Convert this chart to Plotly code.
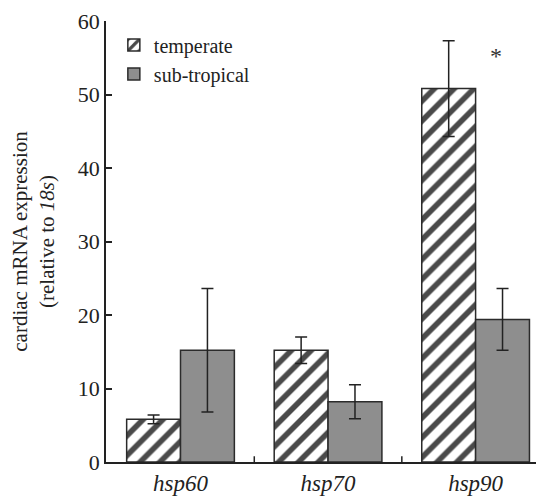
import plotly.graph_objects as go

categories = ["hsp60", "hsp70", "hsp90"]
tick_labels = ["<i>hsp60</i>", "<i>hsp70</i>", "<i>hsp90</i>"]
temperate = [5.8, 15.2, 50.8]
temperate_err = [0.6, 1.8, 6.5]
subtropical = [15.2, 8.2, 19.4]
subtropical_err = [8.4, 2.3, 4.2]
sig_label = "*"
sig_category = 2
sig_y = 55.3

FONT = "Liberation Serif, Times New Roman, serif"
EDGE = "#2b2b2b"

fig = go.Figure()
fig.add_trace(go.Bar(
    name="temperate", x=[0, 1, 2], y=temperate,
    marker=dict(color="white", line=dict(color=EDGE, width=1.5),
                pattern=dict(shape="/", fgcolor="#4a4a4a", bgcolor="white", fgopacity=1,
                             size=14, solidity=0.4, fillmode="replace")),
    error_y=dict(type="data", array=temperate_err, color="#222222", thickness=1.5, width=6),
))
fig.add_trace(go.Bar(
    name="sub-tropical", x=[0, 1, 2], y=subtropical,
    marker=dict(color="#8e8e8e", line=dict(color=EDGE, width=1.5)),
    error_y=dict(type="data", array=subtropical_err, color="#222222", thickness=1.5, width=6),
))

fig.add_annotation(x=sig_category + 0.14, y=sig_y, text=sig_label, showarrow=False,
                   font=dict(family=FONT, size=24, color="#333333"))

fig.update_layout(
    width=544, height=497,
    margin=dict(l=98, r=10, t=13, b=43, autoexpand=False),
    paper_bgcolor="white", plot_bgcolor="white",
    barmode="group", bargap=0.27, bargroupgap=0,
    font=dict(family=FONT, color="#222222"),
    showlegend=True,
    legend=dict(x=0.018, y=0.99, xanchor="left", yanchor="top",
                bgcolor="rgba(0,0,0,0)", font=dict(family=FONT, size=20, color="#222222"),
                itemwidth=30, tracegroupgap=0),
    xaxis=dict(
        range=[-0.505, 2.45], tickmode="array", tickvals=[0, 1, 2], ticktext=tick_labels,
        showline=True, linecolor="#222222", linewidth=1.5, ticks="", showgrid=False,
        zeroline=False, automargin=False, tickfont=dict(family=FONT, size=23, color="#222222"),
    ),
    yaxis=dict(
        range=[0, 60], tickmode="array", tickvals=[0, 10, 20, 30, 40, 50, 60],
        showline=True, linecolor="#222222", linewidth=1.5, ticks="inside", ticklen=6,
        tickcolor="#222222", tickwidth=1.5, showgrid=False, zeroline=False,
        ticklabeloverflow="allow", automargin=False,
        tickfont=dict(family=FONT, size=22, color="#222222"),
        title=dict(text="cardiac mRNA expression<br>(relative to <i>18s</i>)",
                   font=dict(family=FONT, size=21, color="#222222"), standoff=22),
    ),
)

# category boundary ticks on the x axis
for b in [0.5, 1.5]:
    fig.add_shape(type="line", xref="x", yref="paper", x0=b, x1=b, y0=0, y1=0.013,
                  line=dict(color="#222222", width=1.5))

fig.write_html("out.html")
